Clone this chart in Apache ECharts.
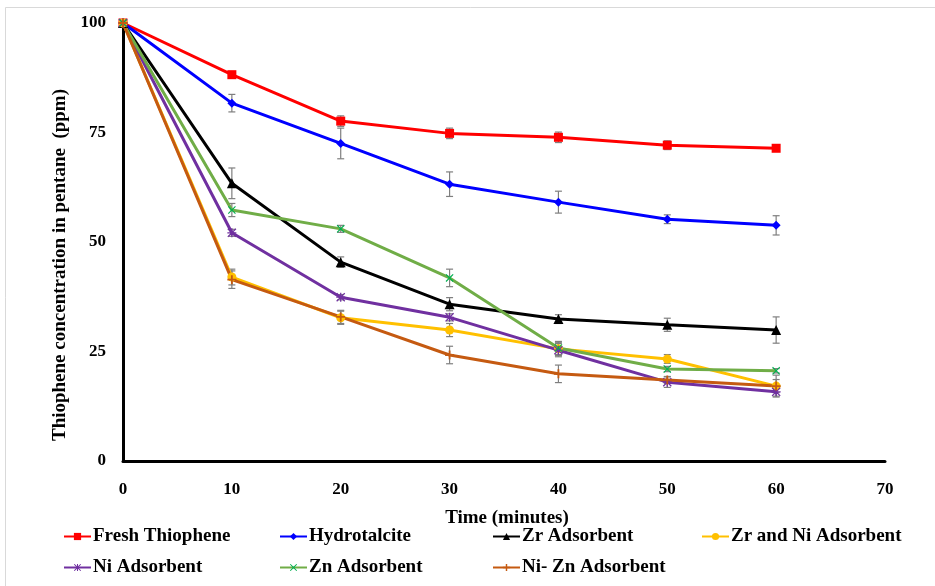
<!DOCTYPE html>
<html><head><meta charset="utf-8">
<script src="https://cdn.jsdelivr.net/npm/echarts@6/dist/echarts.min.js"></script>
<style>html,body{margin:0;padding:0;background:#fff}#c{width:935px;height:586px}</style>
</head><body><div id="c"></div>
<script>
const times = [0, 10, 20, 30, 40, 50, 60];
const xTicks = [0, 10, 20, 30, 40, 50, 60, 70];
const yTicks = [0, 25, 50, 75, 100];
const names = ['Fresh Thiophene', 'Hydrotalcite', 'Zr Adsorbent', 'Zr and Ni Adsorbent', 'Ni Adsorbent', 'Zn Adsorbent', 'Ni- Zn Adsorbent'];
const freshThiophene = [100, 88.2, 77.6, 74.8, 73.9, 72.1, 71.4];
const hydrotalcite   = [100, 81.7, 72.5, 63.2, 59.1, 55.2, 53.8];
const zrAdsorbent    = [100, 63.4, 45.4, 35.8, 32.4, 31.1, 29.9];
const zrNiAdsorbent  = [100, 42.0, 32.7, 29.9, 25.6, 23.3, 17.1];
const niAdsorbent    = [100, 52.1, 37.4, 32.8, 25.3, 18.0, 15.8];
const znAdsorbent    = [100, 57.3, 53.0, 41.8, 25.8, 21.0, 20.6];
const niZnAdsorbent  = [100, 41.4, 32.9, 24.2, 19.9, 18.5, 17.1];
const errFresh = [0, 0.5, 1.2, 1.2, 1.2, 1.0, 0.3];
const errHydro = [0, 2.0, 3.5, 2.8, 2.5, 1.0, 2.2];
const errZr    = [0, 3.5, 1.2, 1.5, 1.0, 1.5, 3.0];
const errZrNi  = [0, 1.8, 1.5, 1.5, 1.5, 1.0, 2.5];
const errNi    = [0, 0.8, 0.6, 0.8, 1.5, 1.2, 1.0];
const errZn    = [0, 1.5, 0.8, 2.0, 1.5, 0.6, 0.5];
const errNiZn  = [0, 2.0, 1.5, 2.0, 2.0, 0.8, 1.5];
const xTitle = 'Time (minutes)';
const yTitle = 'Thiophene concentration in pentane  (ppm)';

const values = [freshThiophene, hydrotalcite, zrAdsorbent, zrNiAdsorbent, niAdsorbent, znAdsorbent, niZnAdsorbent];
const errs = [errFresh, errHydro, errZr, errZrNi, errNi, errZn, errNiZn];
const colors = ['#FF0000', '#0000FF', '#000000', '#FFC000', '#7030A0', '#70AD47', '#C55A11'];
const markerColors = ['#FF0000', '#0000FF', '#000000', '#FFC000', '#7030A0', '#00B050', '#C55A11'];
const PLUS = 'path://M4,0H6V4H10V6H6V10H4V6H0V4H4Z';
const XS = 'path://M1,0L5,4L9,0L10,1L6,5L10,9L9,10L5,6L1,10L0,9L4,5L0,1Z';
const STAR = 'path://M4.3,0H5.7V4.3H10V5.7H5.7V10H4.3V5.7H0V4.3H4.3Z M1,0L5,4L9,0L10,1L6,5L10,9L9,10L5,6L1,10L0,9L4,5L0,1Z';
const symbols = ['rect', 'diamond', 'triangle', 'circle', STAR, XS, PLUS];
const symSizes = [9, 9, 10, 9, 9, 8, 9];
const FONT = 'Liberation Serif';

const series = [];
values.forEach((v, i) => {
  series.push({
    type: 'custom', name: 'err' + i, silent: true, z: 1,
    data: times.map((t, k) => [t, v[k] - errs[i][k], v[k] + errs[i][k]]),
    renderItem: function (params, api) {
      const lo = api.coord([api.value(0), api.value(1)]);
      const hi = api.coord([api.value(0), api.value(2)]);
      if (Math.abs(hi[1] - lo[1]) < 1) return null;
      const w = 3.5;
      const st = { stroke: '#7F7F7F', lineWidth: 1.2 };
      return { type: 'group', children: [
        { type: 'line', shape: { x1: lo[0], y1: lo[1], x2: hi[0], y2: hi[1] }, style: st },
        { type: 'line', shape: { x1: lo[0] - w, y1: lo[1], x2: lo[0] + w, y2: lo[1] }, style: st },
        { type: 'line', shape: { x1: hi[0] - w, y1: hi[1], x2: hi[0] + w, y2: hi[1] }, style: st }
      ]};
    }
  });
});
values.forEach((v, i) => {
  series.push({
    type: 'line', name: names[i], z: 3,
    data: times.map((t, k) => [t, v[k]]),
    symbol: symbols[i], symbolSize: symSizes[i], showAllSymbol: true,
    lineStyle: { color: colors[i], width: 3 },
    itemStyle: { color: markerColors[i] },
    emphasis: { disabled: true }
  });
});

const legendPos = [[63, 527], [279, 527], [492, 527], [701, 527], [63, 558], [279, 558], [492, 558]];
const legends = names.map((n, i) => ({
  data: [n], left: legendPos[i][0], top: legendPos[i][1],
  itemWidth: 27, itemHeight: 9, itemGap: 2, padding: 0,
  textStyle: { fontFamily: FONT, fontWeight: 'bold', fontSize: 19, color: '#000', padding: [0, 0, 0, -3] }
}));

const chart = echarts.init(document.getElementById('c'), null, { renderer: 'canvas' });
chart.setOption({
  animation: false,
  backgroundColor: '#fff',
  graphic: [
    { type: 'rect', shape: { x: 5.5, y: 7.5, width: 960, height: 600 }, style: { fill: 'none', stroke: '#D9D9D9', lineWidth: 1 }, silent: true },
    { type: 'text', x: 60, y: 265, rotation: Math.PI / 2, silent: true,
      style: { text: yTitle, fontFamily: FONT, fontWeight: 'bold', fontSize: 19, fill: '#000', align: 'center', verticalAlign: 'middle' } }
  ],
  grid: { left: 123, right: 50, top: 23, bottom: 125 },
  legend: legends,
  xAxis: {
    type: 'value', min: xTicks[0], max: xTicks[xTicks.length - 1], interval: 10,
    name: xTitle, nameLocation: 'middle', nameGap: 48,
    nameTextStyle: { fontFamily: FONT, fontWeight: 'bold', fontSize: 19, color: '#000', padding: [0, 0, 0, 6] },
    axisLine: { lineStyle: { color: '#000', width: 3 } },
    axisTick: { show: false }, splitLine: { show: false },
    axisLabel: { fontFamily: FONT, fontWeight: 'bold', fontSize: 17, color: '#000', margin: 20 }
  },
  yAxis: {
    type: 'value', min: yTicks[0], max: yTicks[yTicks.length - 1], interval: 25,
    axisLine: { show: true, lineStyle: { color: '#000', width: 3 } },
    axisTick: { show: false }, splitLine: { show: false },
    axisLabel: { fontFamily: FONT, fontWeight: 'bold', fontSize: 17, color: '#000', margin: 17 }
  },
  series: series
});
</script></body></html>
